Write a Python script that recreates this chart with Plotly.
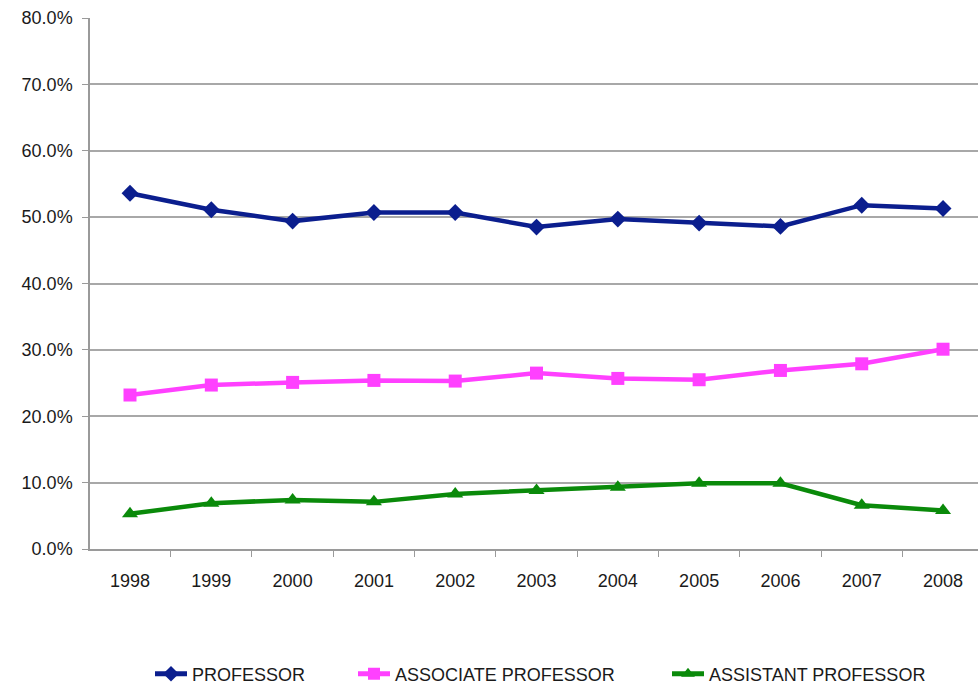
import plotly.graph_objects as go

years = ["1998", "1999", "2000", "2001", "2002", "2003", "2004", "2005", "2006", "2007", "2008"]
professor = [53.6, 51.1, 49.4, 50.7, 50.7, 48.5, 49.7, 49.1, 48.6, 51.8, 51.3]
associate = [23.2, 24.7, 25.1, 25.4, 25.3, 26.5, 25.7, 25.5, 26.9, 27.9, 30.1]
assistant = [5.3, 6.9, 7.4, 7.1, 8.3, 8.8, 9.3, 9.9, 9.9, 6.6, 5.8]
y_ticks = [0, 10, 20, 30, 40, 50, 60, 70, 80]
y_labels = [f"{v:.1f}%" for v in y_ticks]

W, H = 978, 685

# name, values, colour, marker symbol, marker size, legend key, legend left edge (px)
series = [
    ("PROFESSOR", professor, "#0B1E8E", "diamond", 13, "legend", 150),
    ("ASSOCIATE PROFESSOR", associate, "#FF40FF", "square", 13, "legend2", 353),
    ("ASSISTANT PROFESSOR", assistant, "#0A8A0A", "triangle-up", 14, "legend3", 667),
]

fig = go.Figure()
legend_layout = {}
for name, vals, color, symbol, size, leg, left in series:
    fig.add_trace(go.Scatter(
        x=years, y=vals, name=name, mode="lines+markers",
        line=dict(color=color, width=4.5),
        marker=dict(symbol=symbol, size=size, color=color),
        legend=leg,
    ))
    legend_layout[leg] = dict(
        orientation="h", xref="container", yref="container",
        x=left / W, y=1 - 674 / H, xanchor="left", yanchor="middle",
        font=dict(family="Liberation Sans, Arial, sans-serif", size=18, color="#1a1a1a"),
        itemwidth=32, itemsizing="constant", bgcolor="rgba(0,0,0,0)",
    )

fig.update_layout(
    width=W, height=H,
    margin=dict(l=90, r=0, t=18, b=136),
    paper_bgcolor="white", plot_bgcolor="white",
    font=dict(family="Liberation Sans, Arial, sans-serif", size=18, color="#1a1a1a"),
    showlegend=True,
    **legend_layout,
)

fig.update_xaxes(
    type="category", range=[-0.492, 10.43],
    showgrid=False, showline=True, linecolor="#9a9a9a", linewidth=1.5,
    ticks="outside", tickson="boundaries", ticklen=6, tickcolor="#9a9a9a",
    ticklabelstandoff=15,
    tickfont=dict(size=18, color="#1a1a1a"),
)
fig.update_yaxes(
    range=[0, 80], tickmode="array", tickvals=y_ticks, ticktext=y_labels,
    showgrid=True, gridcolor="#a8a8a8", gridwidth=1.5,
    showline=True, linecolor="#9a9a9a", linewidth=1.5,
    ticks="outside", ticklen=6, tickcolor="#9a9a9a",
    ticklabelstandoff=6,
    zeroline=False, tickfont=dict(size=18, color="#1a1a1a"),
)

fig.write_html("out.html")
